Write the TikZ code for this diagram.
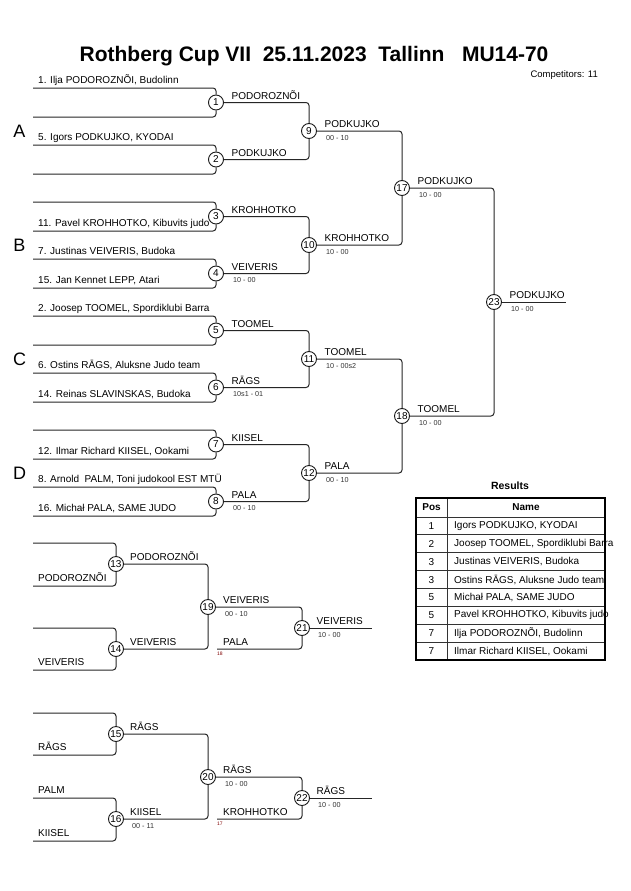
\documentclass[tikz,border=0pt]{standalone}
\usepackage{fontspec}
\setmainfont{Liberation Sans}
\begin{document}
\begin{tikzpicture}[x=1pt,y=-1pt,
  nm/.style={font=\fontsize{10}{12}\selectfont, anchor=base west, inner sep=0pt},
  sc/.style={font=\fontsize{7.2}{8}\selectfont, anchor=base west, inner sep=0pt, text=black!80},
  tiny/.style={font=\fontsize{5}{6}\selectfont, anchor=base west, inner sep=0pt, text=red!50!black},
  mc/.style={circle, draw=black!90, line width=0.9pt, minimum size=15pt, inner sep=0pt, font=\fontsize{10}{12}\selectfont},
  br/.style={draw=black!85, line width=1pt, rounded corners=3pt},
  pl/.style={font=\fontsize{18}{20}\selectfont, inner sep=0pt},
  tb/.style={font=\fontsize{10}{12}\selectfont, inner sep=0pt}]
\useasboundingbox (0,0) rectangle (630,891);
\fill[white] (0,0) rectangle (630,891);

% Title
\node[font=\bfseries\fontsize{21}{24}\selectfont, inner sep=0pt] (title) at (314,56) {Rothberg Cup VII\ \ 25.11.2023\ \ Tallinn\ \ \ MU14-70};
\node[font=\fontsize{9.5}{11}\selectfont, anchor=east, inner sep=0pt] (comp) at (598,75) {Competitors: 11};

% Pool letters
\node[pl] (pA) at (19.5,131) {A};
\node[pl] (pB) at (19.5,245) {B};
\node[pl] (pC) at (19.5,359) {C};
\node[pl] (pD) at (19.5,473) {D};

% Round 1 circles
\node[mc] (m1) at (216,102.5) {1};
\node[mc] (m2) at (216,159.5) {2};
\node[mc] (m3) at (216,216.5) {3};
\node[mc] (m4) at (216,273.5) {4};
\node[mc] (m5) at (216,330.5) {5};
\node[mc] (m6) at (216,387.5) {6};
\node[mc] (m7) at (216,444.5) {7};
\node[mc] (m8) at (216,501.5) {8};
% Round 2
\node[mc] (m9) at (309,131) {9};
\node[mc] (m10) at (309,245) {10};
\node[mc] (m11) at (309,359) {11};
\node[mc] (m12) at (309,473) {12};
% Round 3
\node[mc] (m17) at (402,188) {17};
\node[mc] (m18) at (402,416) {18};
% Final
\node[mc] (m23) at (494,302) {23};
\coordinate (e23) at (566,302);

% left ends of entry lines
\foreach \i/\y in {1/88,2/117,3/145,4/174,5/202,6/231,7/259,8/288,9/316,10/345,11/373,12/402,13/430,14/459,15/487,16/516}
  \coordinate (L\i) at (33,\y);

\draw[br] (L1) -| (m1); \draw[br] (L2) -| (m1);
\draw[br] (L3) -| (m2); \draw[br] (L4) -| (m2);
\draw[br] (L5) -| (m3); \draw[br] (L6) -| (m3);
\draw[br] (L7) -| (m4); \draw[br] (L8) -| (m4);
\draw[br] (L9) -| (m5); \draw[br] (L10) -| (m5);
\draw[br] (L11) -| (m6); \draw[br] (L12) -| (m6);
\draw[br] (L13) -| (m7); \draw[br] (L14) -| (m7);
\draw[br] (L15) -| (m8); \draw[br] (L16) -| (m8);

\draw[br] (m1) -| (m9); \draw[br] (m2) -| (m9);
\draw[br] (m3) -| (m10); \draw[br] (m4) -| (m10);
\draw[br] (m5) -| (m11); \draw[br] (m6) -| (m11);
\draw[br] (m7) -| (m12); \draw[br] (m8) -| (m12);
\draw[br] (m9) -| (m17); \draw[br] (m10) -| (m17);
\draw[br] (m11) -| (m18); \draw[br] (m12) -| (m18);
\draw[br] (m17) -| (m23); \draw[br] (m18) -| (m23);
\draw[br] (m23) -- (e23);

% competitor names
\node[nm] (n1) at (38,83.5) {1. Ilja PODOROZNÕI, Budolinn};
\node[nm] (n5) at (38,140.5) {5. Igors PODKUJKO, KYODAI};
\node[nm] (n11) at (38,226.5) {11. Pavel KROHHOTKO, Kibuvits judo};
\node[nm] (n7) at (38,254.5) {7. Justinas VEIVERIS, Budoka};
\node[nm] (n15) at (38,283.5) {15. Jan Kennet LEPP, Atari};
\node[nm] (n2) at (38,311.5) {2. Joosep TOOMEL, Spordiklubi Barra};
\node[nm] (n6) at (38,368.5) {6. Ostins RĀGS, Aluksne Judo team};
\node[nm] (n14) at (38,397.5) {14. Reinas SLAVINSKAS, Budoka};
\node[nm] (n12) at (38,454.5) {12. Ilmar Richard KIISEL, Ookami};
\node[nm] (n8) at (38,482.5) {8. Arnold\ \ PALM, Toni judokool EST MTÜ};
\node[nm] (n16) at (38,511.5) {16. Michał PALA, SAME JUDO};

% winners and scores
\node[nm] (w1) at (231.5,99) {PODOROZNÕI};
\node[nm] (w2) at (231.5,156) {PODKUJKO};
\node[nm] (w3) at (231.5,213) {KROHHOTKO};
\node[nm] (w4) at (231.5,270) {VEIVERIS};
\node[sc] (s4) at (233,282.5) {10 - 00};
\node[nm] (w5) at (231.5,327) {TOOMEL};
\node[nm] (w6) at (231.5,384) {RĀGS};
\node[sc] (s6) at (233,396.5) {10s1 - 01};
\node[nm] (w7) at (231.5,441) {KIISEL};
\node[nm] (w8) at (231.5,498) {PALA};
\node[sc] (s8) at (233,510.5) {00 - 10};
\node[nm] (w9) at (324.5,127.5) {PODKUJKO};
\node[sc] (s9) at (326,140) {00 - 10};
\node[nm] (w10) at (324.5,241.5) {KROHHOTKO};
\node[sc] (s10) at (326,254) {10 - 00};
\node[nm] (w11) at (324.5,355.5) {TOOMEL};
\node[sc] (s11) at (326,368) {10 - 00s2};
\node[nm] (w12) at (324.5,469.5) {PALA};
\node[sc] (s12) at (326,482) {00 - 10};
\node[nm] (w17) at (417.5,184.5) {PODKUJKO};
\node[sc] (s17) at (419,197) {10 - 00};
\node[nm] (w18) at (417.5,412.5) {TOOMEL};
\node[sc] (s18) at (419,425) {10 - 00};
\node[nm] (w23) at (509.5,298.5) {PODKUJKO};
\node[sc] (s23) at (511,311) {10 - 00};

% Repechage group 1
\node[mc] (m13) at (116,564) {13};
\node[mc] (m14) at (116,649) {14};
\node[mc] (m19) at (208,607) {19};
\node[mc] (m21) at (302,628) {21};
\coordinate (R1) at (33,543); \coordinate (R2) at (33,586);
\coordinate (R3) at (33,628); \coordinate (R4) at (33,670);
\coordinate (p18) at (217,649);
\coordinate (e21) at (372,628);
\draw[br] (R1) -| (m13); \draw[br] (R2) -| (m13);
\draw[br] (R3) -| (m14); \draw[br] (R4) -| (m14);
\draw[br] (m13) -| (m19); \draw[br] (m14) -| (m19);
\draw[br] (m19) -| (m21); \draw[br] (p18) -| (m21);
\draw[br] (m21) -- (e21);
\node[nm] (r13b) at (38,581.5) {PODOROZNÕI};
\node[nm] (r14b) at (38,665.5) {VEIVERIS};
\node[nm] (w13) at (130,560.5) {PODOROZNÕI};
\node[nm] (w14) at (130,645.5) {VEIVERIS};
\node[nm] (w19) at (223,603.5) {VEIVERIS};
\node[sc] (s19) at (225,616) {00 - 10};
\node[nm] (l18) at (223,645.5) {PALA};
\node[tiny] (t18) at (217,655.5) {18};
\node[nm] (w21) at (316.5,624.5) {VEIVERIS};
\node[sc] (s21) at (318,637) {10 - 00};

% Repechage group 2
\node[mc] (m15) at (116,734) {15};
\node[mc] (m16) at (116,819) {16};
\node[mc] (m20) at (208,777) {20};
\node[mc] (m22) at (302,798) {22};
\coordinate (R5) at (33,713); \coordinate (R6) at (33,755);
\coordinate (R7) at (33,798); \coordinate (R8) at (33,841);
\coordinate (p17) at (217,819);
\coordinate (e22) at (372,798);
\draw[br] (R5) -| (m15); \draw[br] (R6) -| (m15);
\draw[br] (R7) -| (m16); \draw[br] (R8) -| (m16);
\draw[br] (m15) -| (m20); \draw[br] (m16) -| (m20);
\draw[br] (m20) -| (m22); \draw[br] (p17) -| (m22);
\draw[br] (m22) -- (e22);
\node[nm] (r15b) at (38,750.5) {RĀGS};
\node[nm] (r16a) at (38,793.5) {PALM};
\node[nm] (r16b) at (38,836.5) {KIISEL};
\node[nm] (w15) at (130,730.5) {RĀGS};
\node[nm] (w16) at (130,815.5) {KIISEL};
\node[sc] (s16) at (132,828) {00 - 11};
\node[nm] (w20) at (223,773.5) {RĀGS};
\node[sc] (s20) at (225,786) {10 - 00};
\node[nm] (l17) at (223,815.5) {KROHHOTKO};
\node[tiny] (t17) at (217,825.5) {17};
\node[nm] (w22) at (316.5,794.5) {RĀGS};
\node[sc] (s22) at (318,807) {10 - 00};

% Results table
\node[font=\bfseries\fontsize{10.5}{12}\selectfont, inner sep=0pt] (restitle) at (510,486) {Results};
\foreach \k in {1,...,8}
  \draw[black!80, line width=0.9pt] (416,{517+17.875*(\k-1)}) -- (605,{517+17.875*(\k-1)});
\draw[black!80, line width=0.9pt] (447,498) -- (447,660);
\draw[black, line width=1.6pt] (416,498) rectangle (605,660);
\node[tb, font=\bfseries\fontsize{10}{12}\selectfont] (hpos) at (431.5,507.5) {Pos};
\node[tb, font=\bfseries\fontsize{10}{12}\selectfont] (hname) at (526,507.5) {Name};
\foreach \k/\p/\n in {1/1/{Igors PODKUJKO, KYODAI},2/2/{Joosep TOOMEL, Spordiklubi Barra},3/3/{Justinas VEIVERIS, Budoka},4/3/{Ostins RĀGS, Aluksne Judo team},5/5/{Michał PALA, SAME JUDO},6/5/{Pavel KROHHOTKO, Kibuvits judo},7/7/{Ilja PODOROZNÕI, Budolinn},8/7/{Ilmar Richard KIISEL, Ookami}} {
  \node[tb] (rp\k) at (431.5,{517+17.875*(\k-0.5)}) {\p};
  \node[tb, anchor=west] (rn\k) at (454,{517+17.875*(\k-0.5)}) {\n};
}
\end{tikzpicture}
\end{document}
